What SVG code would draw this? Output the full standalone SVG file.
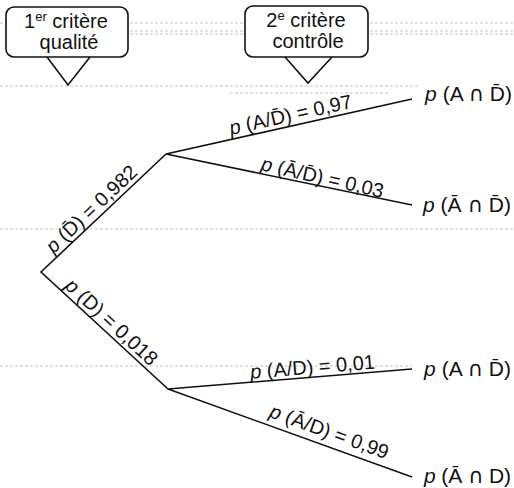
<svg xmlns="http://www.w3.org/2000/svg" width="514" height="488" viewBox="0 0 514 488">
<style>
text{font-family:"Liberation Sans",Arial,sans-serif;fill:#111}
.box{fill:#fff;stroke:#111;stroke-width:1.6}
.edge{stroke:#111;stroke-width:1.6;fill:none}
.noise{stroke:#c4c4c4;stroke-width:1;stroke-dasharray:3 2;fill:none}
.lbl{font-size:20px}
.leaf{font-size:21px}
.hd{font-size:20px}
.it{font-style:italic}
.cap{font-family:"DejaVu Sans",sans-serif}
</style>
<rect width="514" height="488" fill="#fff"/>
<g id="noise">
<path class="noise" d="M0 23H514M130 31H245M370 31H514M130 34H245M370 34H514M0 86H420M230 93H390M0 229H514M0 366H412"/>
</g>
<g id="connectors">
<path class="edge" d="M166 154L41 272L168 389"/>
<path class="edge" d="M412 99L166 154L412 205"/>
<path class="edge" d="M412 369L168 389L412 477"/>
</g>
<g id="callout1">
<rect class="box" x="6" y="7" width="122" height="50" rx="8"/>
<path class="edge" d="M47 57L68 85L90 57"/>
<text class="hd" x="66" y="28" text-anchor="middle">1<tspan font-size="13" dy="-7">er</tspan><tspan dy="7"> critère</tspan></text>
<text class="hd" x="69" y="49" text-anchor="middle">qualité</text>
</g>
<g id="callout2">
<rect class="box" x="245" y="6" width="123" height="51" rx="8"/>
<path class="edge" d="M285 57L308 83L332 57"/>
<text class="hd" x="306" y="27" text-anchor="middle">2<tspan font-size="13" dy="-7">e</tspan><tspan dy="7"> critère</tspan></text>
<text class="hd" x="308" y="48" text-anchor="middle">contrôle</text>
</g>
<g id="lbl-D-bar">
<text class="lbl" text-anchor="middle" transform="translate(96 214) rotate(-43.4)"><tspan class="it">p</tspan> (D̄) = 0,982</text>
</g>
<g id="lbl-D">
<text class="lbl" font-size="21" text-anchor="middle" transform="translate(107 327) rotate(42.6)"><tspan class="it">p</tspan> (D) = 0,018</text>
</g>
<g id="lbl-A-Dbar">
<text class="lbl" text-anchor="middle" transform="translate(292 121.4) rotate(-12.6)"><tspan class="it">p</tspan> (A/D̄) = 0,97</text>
</g>
<g id="lbl-Abar-Dbar">
<text class="lbl" text-anchor="middle" transform="translate(321 184) rotate(13)"><tspan class="it">p</tspan> (Ā/D̄) = 0,03</text>
</g>
<g id="lbl-A-D">
<text class="lbl" text-anchor="middle" transform="translate(313 373.7) rotate(-4.7)"><tspan class="it">p</tspan> (A/D) = 0,01</text>
</g>
<g id="lbl-Abar-D">
<text class="lbl" text-anchor="middle" transform="translate(327 438) rotate(19.8)"><tspan class="it">p</tspan> (Ā/D) = 0,99</text>
</g>
<g id="leaf1"><text class="leaf" x="425" y="101" textLength="87"><tspan class="it">p</tspan> (A <tspan class="cap">∩</tspan> D̄)</text></g>
<g id="leaf2"><text class="leaf" x="423" y="212" textLength="88"><tspan class="it">p</tspan> (Ā <tspan class="cap">∩</tspan> D̄)</text></g>
<g id="leaf3"><text class="leaf" x="424" y="376" textLength="87"><tspan class="it">p</tspan> (A <tspan class="cap">∩</tspan> D̄)</text></g>
<g id="leaf4"><text class="leaf" x="424" y="483" textLength="87"><tspan class="it">p</tspan> (Ā <tspan class="cap">∩</tspan> D)</text></g>
</svg>
